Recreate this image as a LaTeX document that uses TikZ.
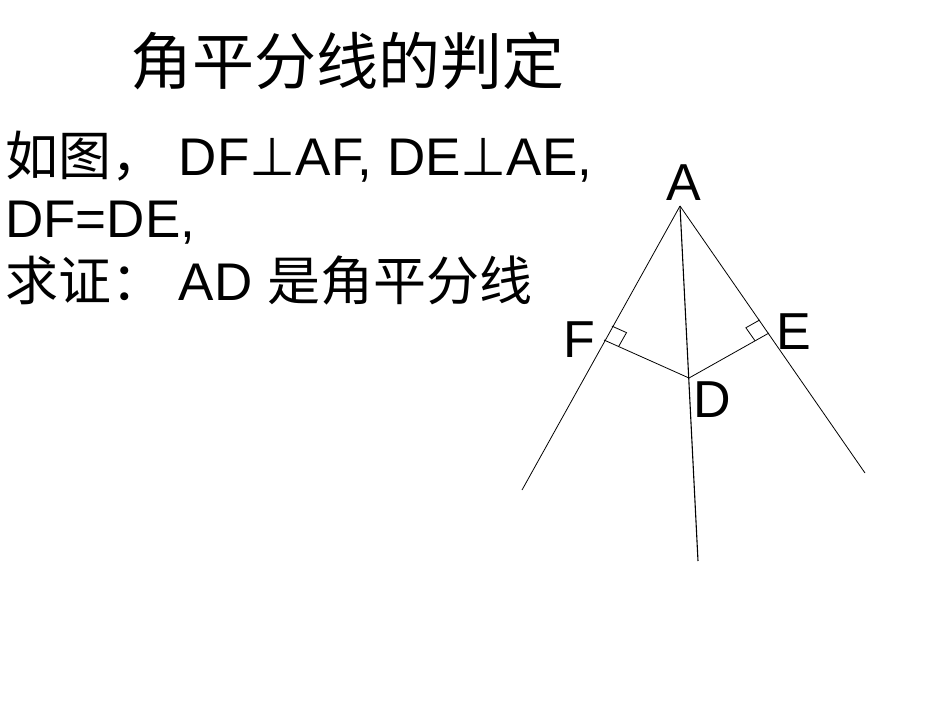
\documentclass[tikz,border=0pt]{standalone}
\usepackage{fontspec}
\setmainfont{Liberation Sans}
\newfontfamily\cjk{Noto Sans CJK SC}
\newfontfamily\symfnt{DejaVu Sans}
\usetikzlibrary{calc}
\begin{document}
\begin{tikzpicture}[x=1pt,y=-1pt,ln/.style={line width=0.8pt},
 lbl/.style={font=\fontsize{52}{52}\selectfont,inner sep=0pt},
 txt/.style={anchor=base west,inner sep=0pt,font=\fontsize{53}{53}\selectfont}]
\useasboundingbox[fill=white] (0,0) rectangle (950,713);
\coordinate (A) at (680,206);
\coordinate (L) at (522,490);
\coordinate (R) at (865,473);
\coordinate (M) at (698,561);
\coordinate (D) at (689,378);
\coordinate (F) at (604,340);
\coordinate (E) at (769,333);
\draw[ln] (A)--(L) (A)--(R);
\draw[line width=1.1pt] (A)--(M);
\draw[ln] (F)--(D)--(E);
\coordinate (fa) at ($(F)!16pt!(A)$);
\coordinate (fd) at ($(F)!16pt!(D)$);
\coordinate (ea) at ($(E)!16pt!(A)$);
\coordinate (ed) at ($(E)!16pt!(D)$);
\draw[ln] (fa) -- ($(fa)+(fd)-(F)$) -- (fd);
\draw[ln] (ea) -- ($(ea)+(ed)-(E)$) -- (ed);
\node[lbl] (la) at (684,183) {A};
\node[lbl] (lf) at (579,340) {F};
\node[lbl] (le) at (794,332) {E};
\node[lbl] (ld) at (712,400) {D};
\node[anchor=base west,inner sep=0pt,font=\cjk\fontsize{62}{62}\selectfont] (title) at (130,84) {角平分线的判定};
\node[txt] (t1) at (5,175) {{\cjk 如图，} DF{\symfnt ⊥}AF, DE{\symfnt ⊥}AE,};
\node[txt] (t2) at (5,237) {DF=DE,};
\node[txt] (t3) at (5,300) {{\cjk 求证：} AD {\cjk 是角平分线}};
\end{tikzpicture}
\end{document}
